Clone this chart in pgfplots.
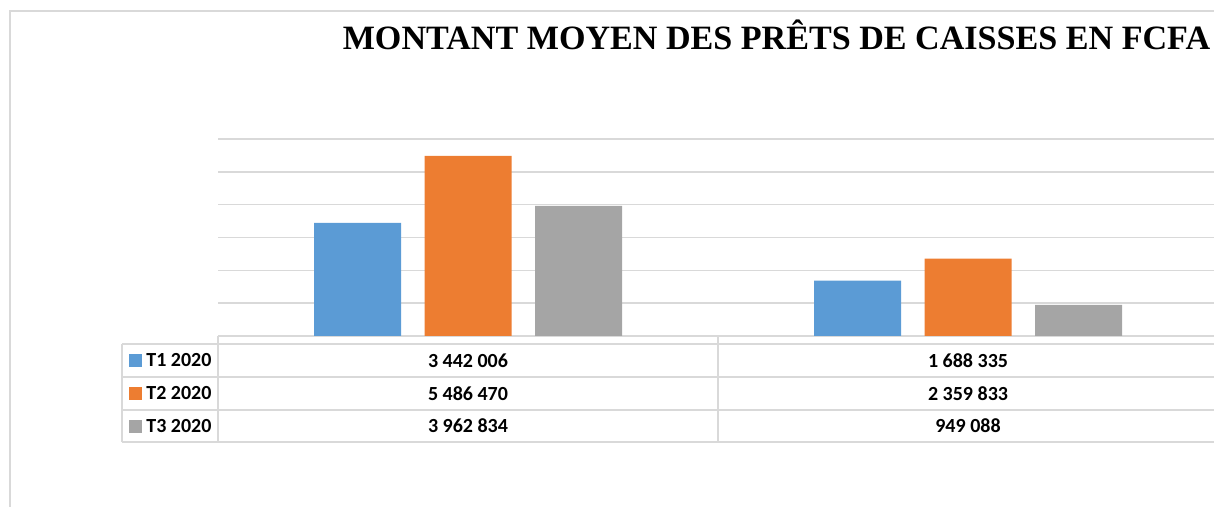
\documentclass[border=0pt]{standalone}
\usepackage{fontspec}
\setmainfont{Liberation Serif}
\newfontfamily\calibri{Carlito}
\usepackage{pgfplots}
\pgfplotsset{compat=1.18}
\definecolor{cT1}{HTML}{5B9BD5}
\definecolor{cT2}{HTML}{ED7D31}
\definecolor{cT3}{HTML}{A5A5A5}
\definecolor{gridc}{HTML}{D9D9D9}
\begin{document}
\begin{tikzpicture}[x=0.5pt,y=-0.5pt]
\useasboundingbox (0,0) rectangle (1214,507);
\draw[gridc, line width=0.75pt] (10,507) -- (10,11) -- (1214,11);
\node[anchor=base, inner sep=0pt, font=\bfseries\fontsize{17.05}{20}\selectfont] at (776.5,50) {MONTANT MOYEN DES PRÊTS DE CAISSES EN FCFA};
\begin{axis}[
  at={(109pt,-168pt)}, anchor=south west,
  width=498pt, height=98.5pt, scale only axis,
  xmin=-0.5, xmax=1.492, ymin=0, ymax=6000000,
  ytick={0,1000000,2000000,3000000,4000000,5000000,6000000},
  xtick=\empty, yticklabels={}, scaled y ticks=false,
  ymajorgrids, grid style={gridc, line width=0.75pt},
  axis line style={draw=none}, major tick length=0pt,
  ybar=11.75pt, bar width=0.174, clip=false,
]
\addplot[fill=cT1, draw=none] coordinates {(0,3442006) (1,1688335)};
\addplot[fill=cT2, draw=none] coordinates {(0,5486470) (1,2359833)};
\addplot[fill=cT3, draw=none] coordinates {(0,3962834) (1,949088)};
\end{axis}
% data table
\begin{scope}[gridc, line width=0.75pt]
\draw (122,344) -- (1214,344);
\draw (122,377) -- (1214,377);
\draw (122,410) -- (1214,410);
\draw (122,442) -- (1214,442);
\draw (122,344) -- (122,442);
\draw (218,336) -- (218,442);
\draw (718,336) -- (718,442);
\end{scope}
\tikzset{tt/.style={font=\calibri\bfseries\fontsize{10}{12}\selectfont, inner sep=0pt}}
\fill[cT1] (129,354) rectangle (142,367);
\fill[cT2] (129,387) rectangle (142,400);
\fill[cT3] (129,420) rectangle (142,433);
\node[tt, anchor=west] at (146,360.5) {T1 2020};
\node[tt, anchor=west] at (146,393.5) {T2 2020};
\node[tt, anchor=west] at (146,426) {T3 2020};
\node[tt] at (468,360.5) {3 442 006};
\node[tt] at (468,393.5) {5 486 470};
\node[tt] at (468,426) {3 962 834};
\node[tt] at (968,360.5) {1 688 335};
\node[tt] at (968,393.5) {2 359 833};
\node[tt] at (968,426) {949 088};
\end{tikzpicture}
\end{document}
